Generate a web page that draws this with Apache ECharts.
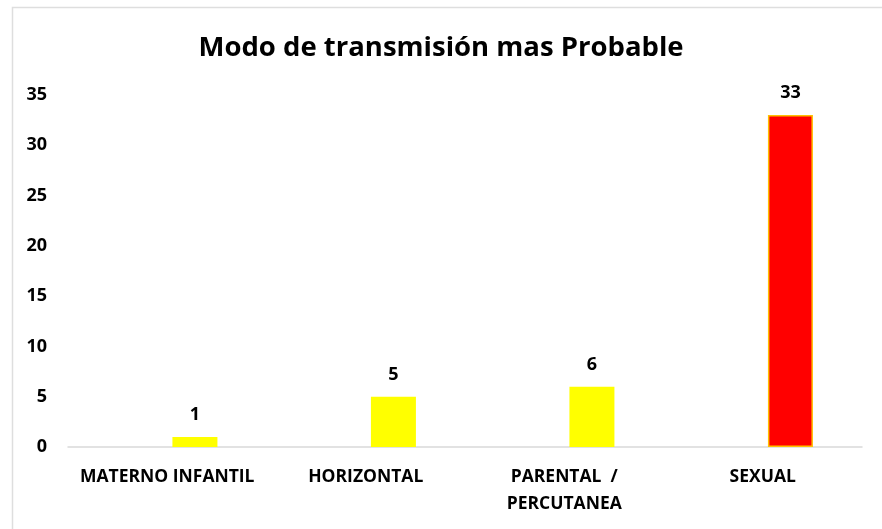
<!DOCTYPE html>
<html><head><meta charset="utf-8">
<script src="https://cdn.jsdelivr.net/npm/echarts@6/dist/echarts.min.js"></script>
<style>html,body{margin:0;padding:0;background:#fff}#c{width:882px;height:529px}</style>
</head><body><div id="c"></div>
<script>
const titleText = 'Modo de transmisión mas Probable';
const categories = ['MATERNO INFANTIL', 'HORIZONTAL', 'PARENTAL  /\nPERCUTANEA', 'SEXUAL'];
const emptySeries = [0, 0, 0, 0];
const values = [1, 5, 6, 33];
const yTicks = {min: 0, max: 35, interval: 5};

const font = '"Open Sans", sans-serif';
const chart = echarts.init(document.getElementById('c'), null, {renderer: 'canvas'});
chart.setOption({
  animation: false,
  backgroundColor: '#fff',
  graphic: [{type: 'rect', left: 10, top: 5, shape: {width: 900, height: 600}, style: {fill: 'none', stroke: '#dedede', lineWidth: 1.5}, z: -1}],
  title: {text: titleText, left: 'center', top: 29, textStyle: {fontFamily: font, fontWeight: 'bold', fontSize: 27.5, color: '#000'}},
  grid: {left: 68, right: 20, top: 95, bottom: 82, containLabel: false},
  xAxis: {type: 'category', data: categories,
    axisLine: {lineStyle: {color: '#d9d9d9', width: 1.5}}, axisTick: {show: false},
    axisLabel: {fontFamily: font, fontWeight: 'bold', fontSize: 17.5, color: '#000', margin: 17, lineHeight: 27, interval: 0}},
  yAxis: {type: 'value', min: yTicks.min, max: yTicks.max, interval: yTicks.interval,
    splitLine: {show: false}, axisLine: {show: false}, axisTick: {show: false},
    axisLabel: {fontFamily: font, fontWeight: 'bold', fontSize: 18, color: '#000', margin: 21}},
  series: [
    {type: 'bar', data: emptySeries, barWidth: 45, barGap: '23%', itemStyle: {color: 'transparent'}, silent: true},
    {type: 'bar', data: values.map((v, i) => i === 3 ? {value: v, itemStyle: {color: '#ff0000', borderColor: '#ffc000', borderWidth: 1.5}} : v),
     barWidth: 45, barGap: '23%', itemStyle: {color: '#ffff00'},
     label: {show: true, position: 'top', distance: 13, fontFamily: font, fontWeight: 'bold', fontSize: 18, color: '#000'}}
  ]
});
</script></body></html>
